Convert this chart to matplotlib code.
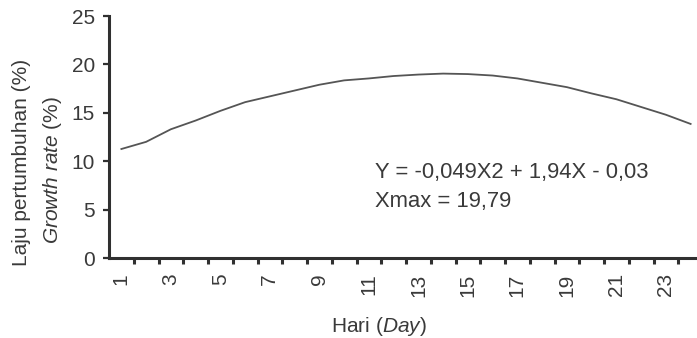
import matplotlib
matplotlib.use("Agg")
import matplotlib.pyplot as plt

# growth rate per day
days = list(range(1, 25))
growth_rate = [11.26, 12.0, 13.3, 14.2, 15.2, 16.1, 16.7, 17.3, 17.9, 18.35,
               18.55, 18.8, 18.95, 19.05, 19.0, 18.85, 18.55, 18.1, 17.65, 17.0,
               16.4, 15.6, 14.8, 13.85]
day_labels = [str(d) for d in days[::2]]
equation_lines = ["Y = -0,049X2 + 1,94X - 0,03", "Xmax = 19,79"]

plt.rcParams["font.family"] = ["Liberation Sans", "DejaVu Sans"]
plt.rcParams["mathtext.fontset"] = "custom"
plt.rcParams["mathtext.rm"] = "Liberation Sans"
plt.rcParams["mathtext.it"] = "Liberation Sans:italic"

TEXT = "#3a3a3a"
AXIS = "#303030"
FS = 15

fig = plt.figure(figsize=(6.97, 3.38), dpi=100)
# the x axis runs a little past the right edge of the picture
ax = fig.add_axes([109 / 697, 80 / 338, 594 / 697, 242 / 338])

ax.plot(days, growth_rate, color="#555555", lw=1.3)

ax.set_xlim(0.5, 24.5)
ax.set_ylim(0, 25)
ax.set_yticks([0, 5, 10, 15, 20, 25])
ax.set_xticks(days[::2])
ax.set_xticklabels(day_labels, rotation=90, va="top", ha="center")
ax.set_xticks([d + 0.5 for d in days[:-1]], minor=True)

for side in ("top", "right"):
    ax.spines[side].set_visible(False)
for side in ("left", "bottom"):
    ax.spines[side].set_linewidth(2.2)
    ax.spines[side].set_color(AXIS)

ax.tick_params(axis="y", length=4, width=1.6, color=AXIS, pad=6,
               labelsize=FS, labelcolor=TEXT)
ax.tick_params(axis="x", which="major", length=0, pad=11,
               labelsize=FS, labelcolor=TEXT)
ax.tick_params(axis="x", which="minor", length=4, width=2.2, color=AXIS)

ax.text(11.25, 8.8, equation_lines[0], fontsize=15.8, color=TEXT, va="center")
ax.text(11.25, 5.8, equation_lines[1], fontsize=15.8, color=TEXT, va="center")

fig.text(22 / 697, 0.518, "Laju pertumbuhan (%)", rotation=90,
         ha="center", va="center", fontsize=FS, color=TEXT)
fig.text(53 / 697, 0.497, r"$\it{Growth\ rate}$ (%)", rotation=90,
         ha="center", va="center", fontsize=FS, color=TEXT)
fig.text(379 / 697, 0.035, r"Hari ($\it{Day}$)", ha="center", va="center",
         fontsize=FS, color=TEXT)

fig.savefig("out.png", dpi=100)
